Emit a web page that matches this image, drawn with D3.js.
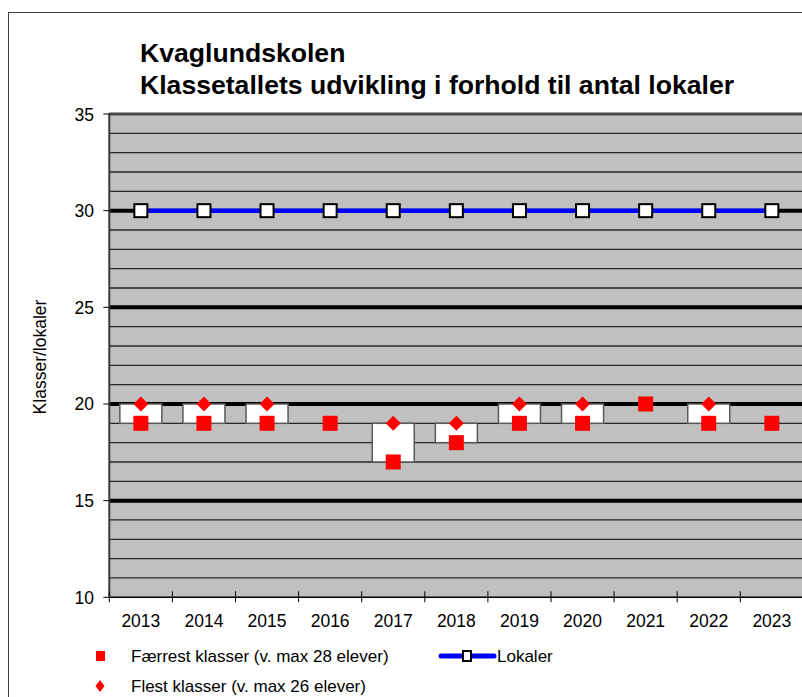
<!DOCTYPE html>
<html>
<head>
<meta charset="utf-8">
<script src="https://cdn.jsdelivr.net/npm/d3@7"></script>
<style>
  html, body { margin: 0; padding: 0; background: #fff; }
  svg { display: block; font-family: "Liberation Sans", Arial, sans-serif; }
</style>
</head>
<body>
<svg id="chart" width="802" height="697"></svg>
<script>
const years = ["2013","2014","2015","2016","2017","2018","2019","2020","2021","2022","2023"];
const faerrest = [19,19,19,19,17,18,19,19,20,19,19];
const flest    = [20,20,20,19,19,19,20,20,20,20,19];
const lokaler  = [30,30,30,30,30,30,30,30,30,30,30];
const yTicks   = [10,15,20,25,30,35];
const titleLines = ["Kvaglundskolen", "Klassetallets udvikling i forhold til antal lokaler"];
const yLabel = "Klasser/lokaler";
const legendLabels = ["Færrest klasser (v. max 28 elever)", "Flest klasser (v. max 26 elever)", "Lokaler"];

(function () {
const svg = d3.select("#chart");
const pLeft = 109.3, bandW = 63.1, pTop = 114, pBottom = 597.3;
const pRight = pLeft + years.length * bandW;

const x = d3.scaleBand().domain(years).range([pLeft, pRight]).padding(0);
const y = d3.scaleLinear().domain([10, 35]).range([pBottom, pTop]);
const cx = d => x(d) + x.bandwidth() / 2;

// outer border
svg.append("rect").attr("x", 8.5).attr("y", 12.5).attr("width", 820).attr("height", 720)
  .attr("fill", "none").attr("stroke", "#404040").attr("stroke-width", 1);

// title
const title = svg.append("text").attr("font-weight", "bold").attr("font-size", 26.6).attr("fill", "#000");
titleLines.forEach((t, i) => {
  title.append("tspan").attr("x", 140).attr("y", 61.5 + i * 32).text(t);
});

// plot background
svg.append("rect").attr("x", pLeft).attr("y", pTop).attr("width", pRight - pLeft).attr("height", pBottom - pTop)
  .attr("fill", "#c0c0c0");

// minor gridlines
const minor = d3.range(11, 35).filter(v => v % 5 !== 0);
svg.append("g").selectAll("line").data(minor).join("line")
  .attr("x1", pLeft).attr("x2", pRight)
  .attr("y1", d => y(d)).attr("y2", d => y(d))
  .attr("stroke", "#262626").attr("stroke-width", 1.3);

// major gridlines
svg.append("g").selectAll("line").data([15, 20, 25, 30]).join("line")
  .attr("x1", pLeft).attr("x2", pRight)
  .attr("y1", d => y(d)).attr("y2", d => y(d))
  .attr("stroke", "#000").attr("stroke-width", 4);
// top edge (35)
svg.append("line").attr("x1", pLeft).attr("x2", pRight).attr("y1", y(35)).attr("y2", y(35))
  .attr("stroke", "#4a4a4a").attr("stroke-width", 3);

// up-down bars
const boxW = 42;
svg.append("g").selectAll("rect").data(years).join("rect")
  .attr("x", d => cx(d) - boxW / 2)
  .attr("y", (d, i) => y(Math.max(faerrest[i], flest[i])))
  .attr("width", boxW)
  .attr("height", (d, i) => Math.abs(y(faerrest[i]) - y(flest[i])))
  .attr("fill", "#fff").attr("stroke", "#5a5a5a").attr("stroke-width", 1.5);

// lokaler line
svg.append("path").datum(years)
  .attr("d", d3.line().x(d => cx(d)).y((d, i) => y(lokaler[i])))
  .attr("fill", "none").attr("stroke", "#0000ff").attr("stroke-width", 4.5);
svg.append("g").selectAll("rect").data(years).join("rect")
  .attr("x", d => cx(d) - 6.5).attr("y", (d, i) => y(lokaler[i]) - 6.5)
  .attr("width", 13).attr("height", 13)
  .attr("fill", "#fff").attr("stroke", "#000").attr("stroke-width", 2);

// flest diamonds
svg.append("g").selectAll("path").data(years).join("path")
  .attr("d", (d, i) => {
    const px = cx(d), py = y(flest[i]);
    return `M${px},${py - 7.5}L${px + 7.5},${py}L${px},${py + 7.5}L${px - 7.5},${py}Z`;
  })
  .attr("fill", "#ff0000");

// faerrest squares
svg.append("g").selectAll("rect").data(years).join("rect")
  .attr("x", d => cx(d) - 7.5).attr("y", (d, i) => y(faerrest[i]) - 7.5)
  .attr("width", 15).attr("height", 15).attr("fill", "#ff0000");

// y axis
svg.append("line").attr("x1", pLeft).attr("x2", pLeft).attr("y1", pTop - 1).attr("y2", pBottom)
  .attr("stroke", "#3a3a3a").attr("stroke-width", 2);
const yAxis = svg.append("g");
yAxis.selectAll("line").data(yTicks).join("line")
  .attr("x1", pLeft - 6).attr("x2", pLeft).attr("y1", d => y(d)).attr("y2", d => y(d))
  .attr("stroke", "#000").attr("stroke-width", 1);
yAxis.selectAll("text").data(yTicks).join("text")
  .attr("x", 94).attr("y", d => y(d) + 6.5).attr("text-anchor", "end")
  .attr("font-size", 17.5).text(d => d);

// x axis
svg.append("line").attr("x1", pLeft).attr("x2", pRight).attr("y1", pBottom).attr("y2", pBottom)
  .attr("stroke", "#000").attr("stroke-width", 1.5);
const bounds = d3.range(0, years.length + 1).map(i => pLeft + i * bandW);
svg.append("g").selectAll("line").data(bounds).join("line")
  .attr("x1", d => d).attr("x2", d => d).attr("y1", pBottom - 6).attr("y2", pBottom + 5)
  .attr("stroke", "#000").attr("stroke-width", 1);
svg.append("g").selectAll("text").data(years).join("text")
  .attr("x", d => cx(d)).attr("y", 627).attr("text-anchor", "middle")
  .attr("font-size", 17.5).text(d => d);

// y label
svg.append("text").attr("transform", "translate(46,357) rotate(-90)")
  .attr("text-anchor", "middle").attr("font-size", 17.5).text(yLabel);

// legend
const lg = svg.append("g").attr("font-size", 17);
lg.append("rect").attr("x", 96).attr("y", 651).attr("width", 9).attr("height", 10).attr("fill", "#ff0000");
lg.append("text").attr("x", 131).attr("y", 662).text(legendLabels[0]);
lg.append("path").attr("d", "M100,680L104.5,686L100,692L95.5,686Z").attr("fill", "#ff0000");
lg.append("text").attr("x", 131).attr("y", 692).text(legendLabels[1]);
lg.append("line").attr("x1", 441).attr("x2", 494).attr("y1", 656).attr("y2", 656)
  .attr("stroke", "#0000ff").attr("stroke-width", 5).attr("stroke-linecap", "round");
lg.append("rect").attr("x", 463).attr("y", 651).attr("width", 8).attr("height", 10)
  .attr("fill", "#fff").attr("stroke", "#000").attr("stroke-width", 2);
lg.append("text").attr("x", 497).attr("y", 662).text(legendLabels[2]);
})();
</script>
</body>
</html>
